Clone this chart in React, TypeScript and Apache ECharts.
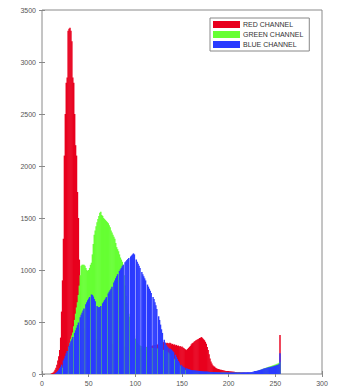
import React, { useEffect, useRef } from "react";
import * as echarts from "echarts";

const seriesNames = ["RED CHANNEL", "GREEN CHANNEL", "BLUE CHANNEL"];
const xTicks = { min: 0, max: 300, interval: 50 };
const yTicks = { min: 0, max: 3500, interval: 500 };

// histogram counts per intensity bin 0..255
const redCounts = [
  0, 0, 0, 0, 0, 0, 0, 0, 0, 0,
  5, 10, 15, 25, 40, 60, 90, 130, 170, 230,
  350, 600, 900, 1300, 2100, 2500, 2800, 2850, 3300, 3320,
  3330, 3300, 3200, 2850, 2800, 2500, 2200, 2100, 1750, 1500,
  1100, 800, 600, 520, 470, 440, 420, 410, 400, 390,
  380, 375, 370, 365, 360, 355, 350, 345, 340, 335,
  330, 325, 320, 318, 315, 312, 310, 308, 305, 302,
  300, 298, 296, 294, 292, 290, 288, 286, 284, 282,
  280, 278, 276, 274, 272, 270, 268, 266, 264, 262,
  260, 258, 256, 254, 252, 250, 248, 246, 244, 242,
  240, 240, 240, 242, 244, 246, 248, 250, 252, 254,
  256, 258, 260, 262, 264, 266, 268, 270, 272, 274,
  276, 278, 280, 282, 284, 286, 288, 290, 295, 300,
  305, 310, 300, 295, 300, 298, 290, 300, 295, 285,
  290, 280, 285, 275, 280, 270, 275, 265, 270, 260,
  265, 255, 250, 240, 235, 230, 240, 250, 260, 270,
  285, 295, 300, 310, 318, 325, 330, 335, 340, 345,
  350, 355, 345, 335, 325, 310, 290, 260, 230, 190,
  150, 120, 100, 85, 75, 70, 60, 55, 50, 48,
  45, 42, 40, 38, 36, 34, 32, 30, 29, 28,
  27, 26, 25, 24, 23, 22, 21, 20, 19, 18,
  18, 17, 16, 15, 14, 14, 13, 13, 12, 12,
  12, 11, 11, 11, 10, 10, 10, 10, 10, 10,
  10, 10, 10, 10, 10, 10, 10, 10, 10, 10,
  10, 10, 10, 11, 11, 11, 12, 12, 12, 13,
  13, 14, 14, 15, 15, 375,
];

const greenCounts = [
  0, 0, 0, 0, 0, 0, 0, 0, 0, 0,
  0, 0, 0, 0, 0, 0, 5, 10, 15, 25,
  35, 45, 60, 80, 100, 120, 150, 180, 220, 260,
  300, 340, 370, 400, 460, 520, 580, 640, 690, 760,
  850, 950, 1040, 1050, 1050, 1050, 1040, 1020, 1000, 990,
  1000, 1020, 1050, 1070, 1150, 1250, 1340, 1380, 1420, 1460,
  1490, 1520, 1550, 1560, 1530, 1520, 1500, 1490, 1480, 1470,
  1460, 1450, 1430, 1410, 1380, 1360, 1340, 1320, 1300, 1260,
  1220, 1200, 1180, 1150, 1120, 1100, 1080, 1050, 950, 850,
  750, 680, 620, 580, 550, 520, 480, 440, 400, 370,
  340, 320, 300, 290, 280, 275, 270, 268, 266, 264,
  262, 260, 258, 256, 255, 254, 253, 252, 251, 250,
  250, 250, 248, 246, 244, 242, 240, 238, 236, 234,
  232, 228, 224, 220, 214, 208, 200, 190, 180, 170,
  160, 150, 140, 130, 120, 110, 100, 90, 80, 70,
  60, 52, 45, 40, 35, 32, 30, 28, 26, 25,
  24, 23, 22, 21, 20, 20, 19, 19, 18, 18,
  17, 17, 16, 16, 15, 15, 15, 14, 14, 14,
  13, 13, 13, 13, 13, 13, 13, 13, 12, 12,
  12, 12, 12, 12, 12, 12, 12, 12, 12, 12,
  12, 12, 11, 11, 11, 11, 11, 11, 11, 11,
  11, 11, 11, 11, 11, 11, 10, 10, 10, 10,
  10, 10, 10, 10, 10, 10, 10, 10, 10, 10,
  28, 30, 33, 36, 39, 42, 45, 48, 52, 56,
  60, 63, 66, 69, 72, 75, 78, 81, 84, 88,
  90, 94, 98, 102, 108, 115,
];

const blueCounts = [
  0, 0, 0, 0, 0, 0, 0, 0, 0, 0,
  0, 0, 0, 0, 5, 10, 20, 30, 40, 55,
  70, 90, 0, 130, 150, 175, 200, 220, 0, 270,
  295, 315, 335, 355, 0, 395, 420, 445, 470, 495,
  0, 545, 570, 590, 610, 630, 0, 670, 690, 710,
  725, 740, 0, 765, 760, 745, 720, 700, 0, 655,
  645, 640, 645, 655, 0, 680, 695, 710, 725, 740,
  0, 775, 790, 805, 820, 840, 0, 880, 900, 920,
  940, 960, 0, 990, 1005, 1020, 1035, 1050, 0, 1075,
  1085, 1095, 1105, 1115, 0, 1130, 1140, 1150, 1160, 1150,
  0, 1100, 1080, 1060, 1040, 1020, 0, 980, 960, 940,
  920, 900, 0, 860, 840, 820, 800, 780, 0, 740,
  720, 690, 660, 625, 0, 555, 520, 475, 430, 395,
  0, 330, 300, 280, 265, 255, 0, 245, 240, 230,
  220, 210, 0, 185, 165, 145, 125, 110, 0, 90,
  80, 70, 65, 60, 0, 55, 50, 47, 44, 40,
  38, 37, 36, 35, 34, 33, 32, 31, 30, 30,
  28, 27, 26, 25, 24, 24, 23, 23, 22, 22,
  20, 20, 19, 19, 18, 18, 17, 17, 16, 16,
  16, 15, 15, 15, 15, 15, 15, 15, 15, 15,
  14, 14, 14, 14, 14, 14, 14, 14, 14, 14,
  14, 15, 15, 15, 15, 15, 16, 16, 16, 16,
  17, 17, 18, 18, 19, 20, 22, 25, 28, 28,
  30, 32, 35, 38, 40, 43, 46, 50, 53, 56,
  58, 60, 62, 64, 66, 68, 70, 72, 75, 78,
  80, 83, 86, 90, 95, 200,
];

const colors = ["#e8001e", "#66ff33", "#2b3bff"];
const FONT = "'Liberation Sans', Arial, sans-serif";

export default function App() {
  const ref = useRef<HTMLDivElement>(null);
  useEffect(() => {
    if (!ref.current) return;
    const chart = echarts.init(ref.current, null, { renderer: "svg" });
    const allCounts = [redCounts, greenCounts, blueCounts];
    const tickStyle = { lineStyle: { color: "#888", width: 1 } };
    chart.setOption({
      animation: false,
      backgroundColor: "#fff",
      textStyle: { fontFamily: FONT },
      grid: {
        left: 42,
        right: 17,
        top: 10,
        bottom: 14,
        show: true,
        borderColor: "#8a8a8a",
        borderWidth: 1,
        backgroundColor: "#fff",
      },
      legend: {
        orient: "vertical",
        left: 210,
        top: 18,
        itemWidth: 27,
        itemHeight: 7,
        itemGap: 3,
        padding: [3, 6, 3, 3],
        borderColor: "#888",
        borderWidth: 1,
        backgroundColor: "#fff",
        icon: "rect",
        textStyle: { fontSize: 7, color: "#333", fontFamily: FONT, padding: [0, 0, 0, -2] },
        data: seriesNames,
      },
      xAxis: [
        {
          type: "value",
          ...xTicks,
          position: "bottom",
          axisLine: { show: false },
          axisTick: { inside: true, length: 3, ...tickStyle },
          axisLabel: { fontSize: 7, color: "#555", margin: 6, fontFamily: FONT },
          splitLine: { show: false },
        },
        {
          type: "value",
          ...xTicks,
          position: "top",
          axisLine: { show: false },
          axisTick: { inside: true, length: 3, ...tickStyle },
          axisLabel: { show: false },
          splitLine: { show: false },
        },
      ],
      yAxis: [
        {
          type: "value",
          ...yTicks,
          position: "left",
          axisLine: { show: false },
          axisTick: { show: true, inside: true, length: 3, ...tickStyle },
          axisLabel: {
            fontSize: 7,
            color: "#555",
            margin: 6,
            fontFamily: FONT,
            formatter: (v: number) => String(v),
          },
          splitLine: { show: false },
        },
        {
          type: "value",
          ...yTicks,
          position: "right",
          axisLine: { show: false },
          axisTick: { show: true, inside: true, length: 3, ...tickStyle },
          axisLabel: { show: false },
          splitLine: { show: false },
        },
      ],
      series: seriesNames.map((name, s) => ({
        name,
        type: "bar",
        xAxisIndex: 0,
        yAxisIndex: 0,
        barWidth: 1.45,
        barGap: "-100%",
        itemStyle: { color: colors[s] },
        emphasis: { disabled: true },
        data: allCounts[s].map((v, i) => [i, v]),
      })),
    });
    return () => chart.dispose();
  }, []);
  return (
    <div
      ref={ref}
      style={{ position: "fixed", left: 0, top: 0, width: 339, height: 388 }}
    />
  );
}
